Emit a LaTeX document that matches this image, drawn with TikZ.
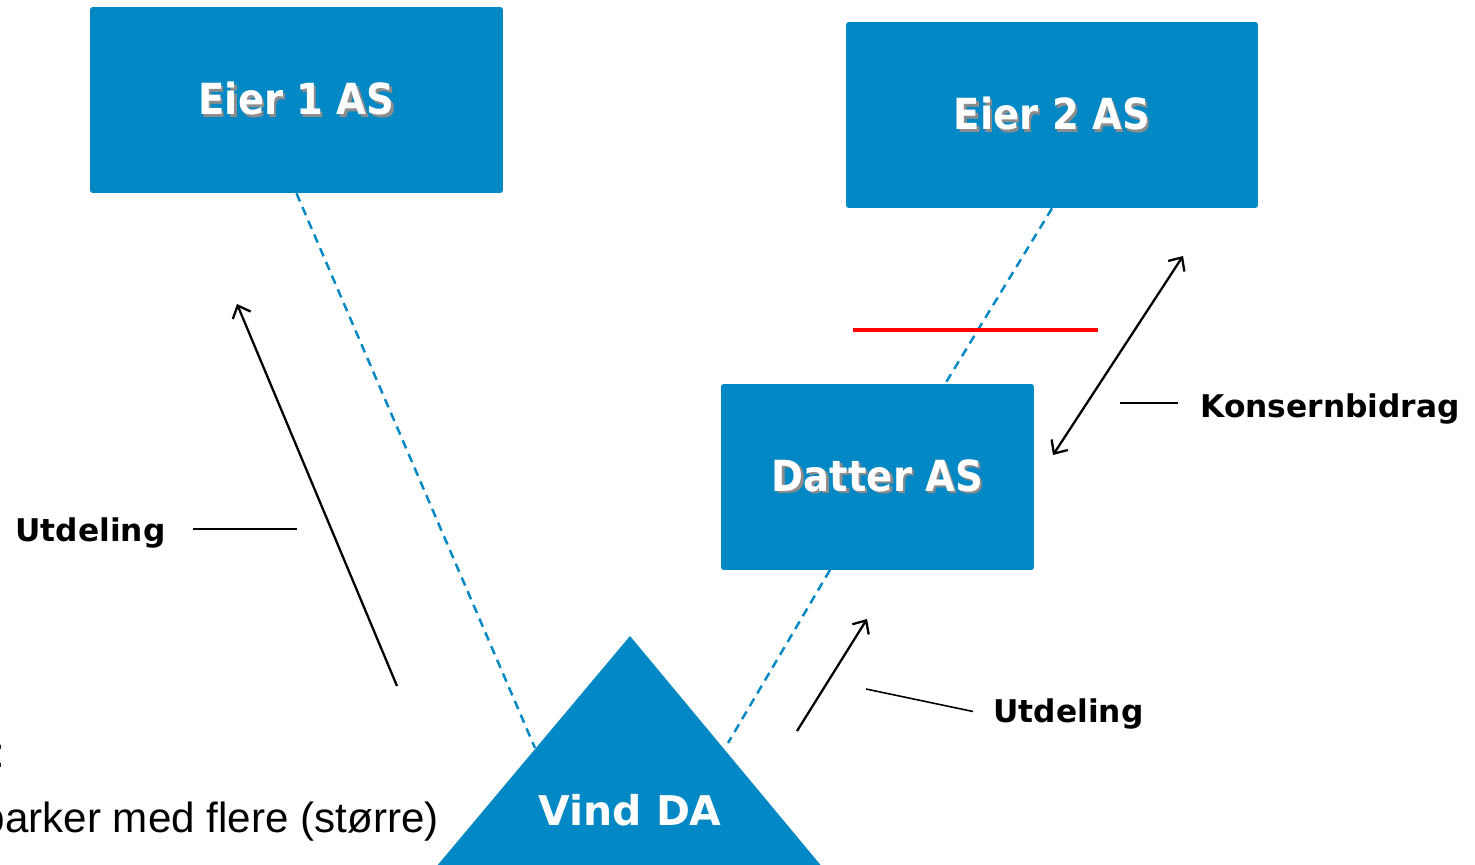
\documentclass[tikz,border=0pt]{standalone}
\usepackage{fontspec}
\setmainfont{Liberation Sans}
\newfontfamily\boxfont{DejaVu Sans}[FakeStretch=0.9]
\newfontfamily\labelfont{DejaVu Sans}
\usetikzlibrary{arrows.meta, calc}

\definecolor{vindblue}{RGB}{2,136,197}
\newcommand{\shtext}[1]{\rlap{\kern1.3pt\raisebox{-1.3pt}{\color{black!45}#1}}#1}

\begin{document}
\begin{tikzpicture}[x=0.02cm, y=-0.02cm]
    \tikzset{
        firma/.style={
            fill=vindblue, rounded corners=1.5pt, inner sep=0pt,
            minimum height=3.72cm, text=white,
            font=\boxfont\bfseries\fontsize{24.4}{28}\selectfont
        },
        eierskap/.style={vindblue, line width=1.4pt, dash pattern=on 5pt off 3.5pt},
        strom/.style={black, line width=1.3pt, -{Straight Barb[length=6pt, width=11pt]}},
        pil2/.style={black, line width=1.3pt, {Straight Barb[length=6pt, width=11pt]}-{Straight Barb[length=6pt, width=11pt]}},
        peker/.style={black, line width=0.9pt},
        etikett/.style={inner sep=0pt, font=\labelfont\bfseries\fontsize{17.8}{20}\selectfont}
    }
    \useasboundingbox (0,0) rectangle (1475,865);

    % --- Selskapene ---
    \node[firma, minimum width=8.26cm] (eier1) at (296.5,100) {\shtext{Eier 1 AS}};
    \node[firma, minimum width=8.24cm] (eier2) at (1052,115) {\shtext{Eier 2 AS}};
    \node[firma, minimum width=6.26cm] (datter) at (877.5,477) {\shtext{Datter AS}};

    % --- Vind DA (trekant) ---
    \fill[vindblue] (630,636) -- (410,898) -- (848,898) -- cycle;
    \node[anchor=base, inner sep=0pt, text=white, font=\labelfont\bfseries\fontsize{23.3}{26}\selectfont]
        (vind) at (630,825) {Vind DA};

    % --- Eierlinjer (stiplet) ---
    \coordinate (vl) at (535,748);
    \coordinate (vr) at (728,743);
    \coordinate (dt) at (945,384);
    \coordinate (db) at (830,570);
    \draw[eierskap] (eier1.south) -- (vl);
    \draw[eierskap] (eier2.south) -- (dt);
    \draw[eierskap] (db) -- (vr);

    % Sperre
    \coordinate (sp1) at (853,330);
    \coordinate (sp2) at (1098,330);
    \draw[red, line width=2.3pt] (sp1) -- (sp2);

    % --- Strommer ---
    \coordinate (u1a) at (397,686);
    \coordinate (u1b) at (237,304);
    \draw[strom] (u1a) -- (u1b);
    \coordinate (u2a) at (797,731);
    \coordinate (u2b) at (867,619);
    \draw[strom] (u2a) -- (u2b);
    \coordinate (kba) at (1053,455);
    \coordinate (kbb) at (1183,256);
    \draw[pil2] (kba) -- (kbb);

    % --- Etiketter ---
    \node[etikett, anchor=base west] (utdeling1) at (15,541) {Utdeling};
    \coordinate (p1) at (297,529);
    \draw[peker] ($(utdeling1.east |- p1)+(27,0)$) -- (p1);

    \node[etikett, anchor=base west] (konsern) at (1200,417) {Konsernbidrag};
    \coordinate (p2) at (1120,403);
    \draw[peker] (p2) -- ($(konsern.west |- p2)+(-22,0)$);

    \node[etikett, anchor=base west] (utdeling2) at (993,722) {Utdeling};
    \coordinate (p3) at (866,689);
    \draw[peker] (p3) -- ($(utdeling2.west)+(-20,-2)$);

    % --- Tekst nede til venstre ---
    \node[anchor=base east, inner sep=0pt, font=\fontsize{24}{28}\selectfont] (kolon) at (6,767) {:};
    \node[anchor=base east, inner sep=0pt, font=\fontsize{24}{28}\selectfont] (parker) at (439,832) {parker med flere (større)};
\end{tikzpicture}
\end{document}
